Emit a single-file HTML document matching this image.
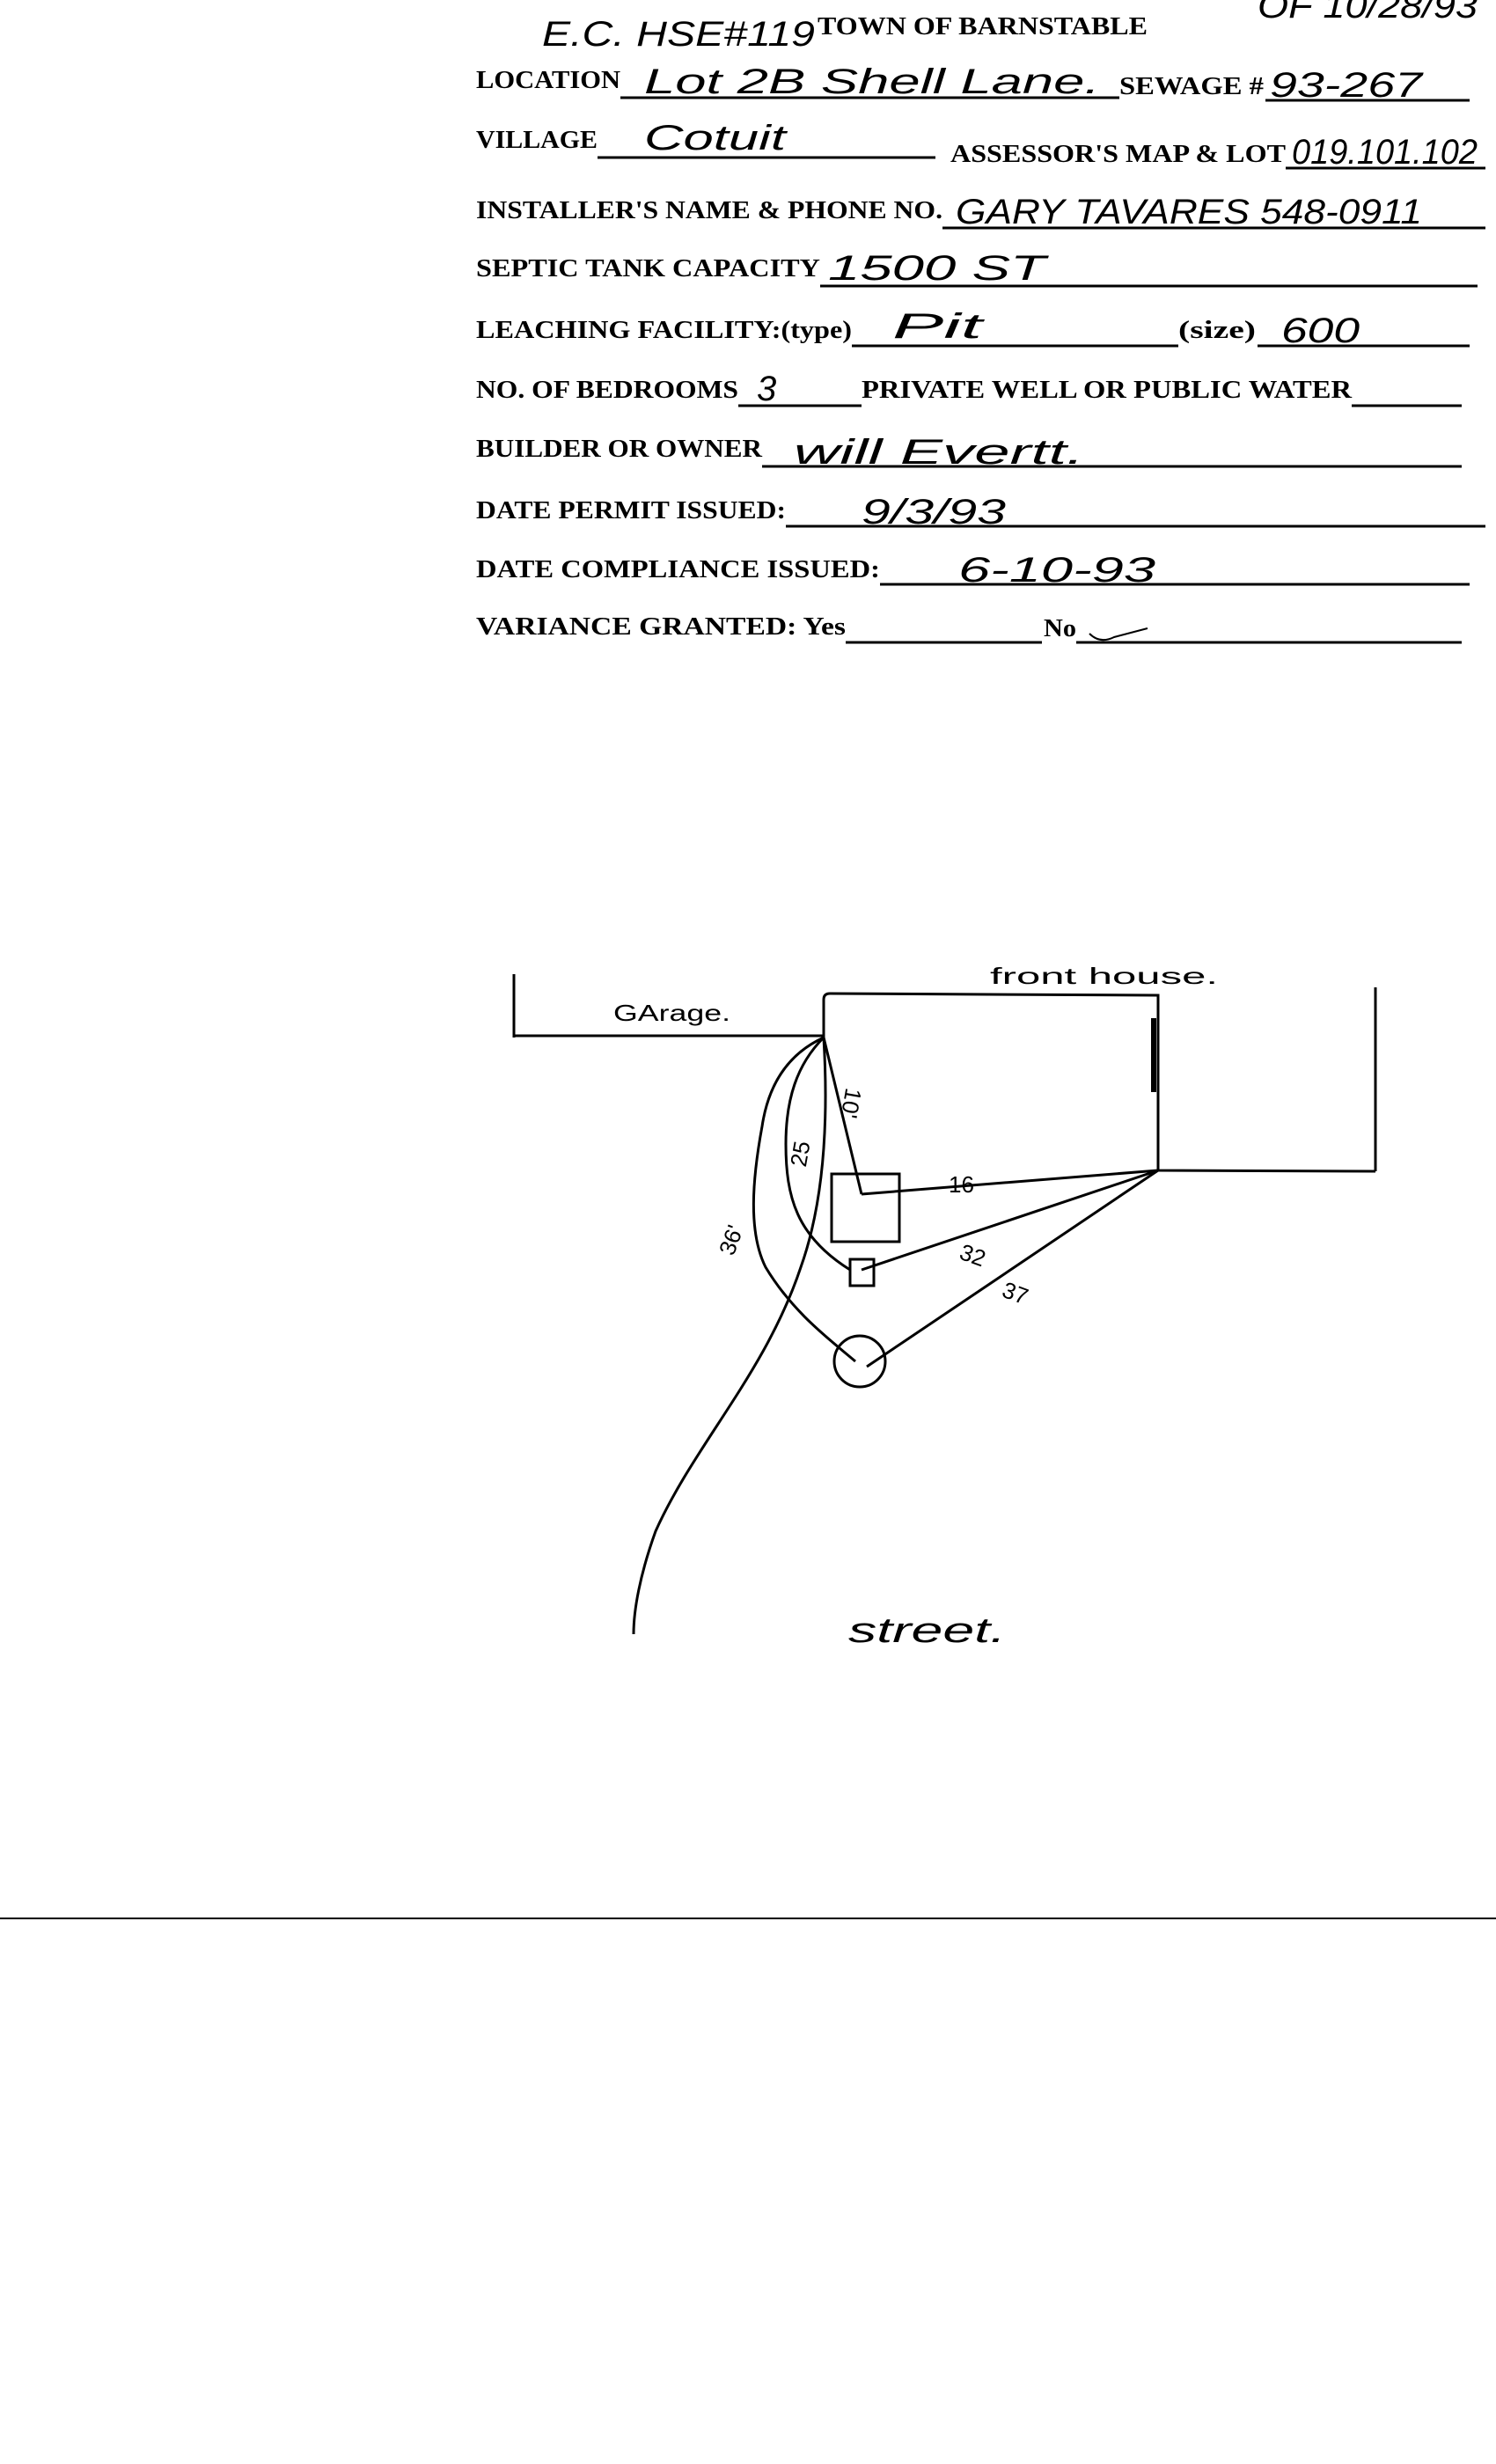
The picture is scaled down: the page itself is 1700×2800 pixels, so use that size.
<!DOCTYPE html>
<html><head><meta charset="utf-8"><style>
html,body{margin:0;padding:0;background:#fff;}
svg{display:block;}
.l{font-family:"Liberation Serif",serif;font-weight:bold;font-size:28px;fill:#000;}
.h{font-family:"Liberation Sans",sans-serif;font-style:italic;font-size:40px;fill:#000;}
.d{font-family:"Liberation Sans",sans-serif;font-size:26px;fill:#000;}
</style></head><body>
<svg width="1700" height="2800" viewBox="0 0 1700 2800" xmlns="http://www.w3.org/2000/svg">
<g stroke="#000" stroke-width="3" fill="none">
<line x1="705" y1="111" x2="1272" y2="111"/><line x1="1438" y1="114" x2="1670" y2="114"/>
<line x1="679" y1="179" x2="1063" y2="179"/><line x1="1461" y1="191" x2="1688" y2="191"/>
<line x1="1071" y1="259" x2="1688" y2="259"/>
<line x1="932" y1="325" x2="1679" y2="325"/>
<line x1="968" y1="393" x2="1339" y2="393"/><line x1="1429" y1="393" x2="1670" y2="393"/>
<line x1="839" y1="461" x2="979" y2="461"/><line x1="1536" y1="461" x2="1661" y2="461"/>
<line x1="866" y1="530" x2="1661" y2="530"/>
<line x1="893" y1="598" x2="1688" y2="598"/>
<line x1="1000" y1="664" x2="1670" y2="664"/>
<line x1="961" y1="730" x2="1184" y2="730"/><line x1="1223" y1="730" x2="1661" y2="730"/>
<line x1="0" y1="2180" x2="1700" y2="2180" stroke-width="2"/>
</g>
<text class="l" x="929" y="39" textLength="375" lengthAdjust="spacingAndGlyphs">TOWN OF BARNSTABLE</text>
<text class="l" x="541" y="100" textLength="164" lengthAdjust="spacingAndGlyphs">LOCATION</text>
<text class="l" x="1272" y="107" textLength="164" lengthAdjust="spacingAndGlyphs">SEWAGE #</text>
<text class="l" x="541" y="168" textLength="138" lengthAdjust="spacingAndGlyphs">VILLAGE</text>
<text class="l" x="1080" y="184" textLength="381" lengthAdjust="spacingAndGlyphs">ASSESSOR'S  MAP &amp; LOT</text>
<text class="l" x="541" y="248" textLength="530" lengthAdjust="spacingAndGlyphs">INSTALLER'S NAME &amp; PHONE NO.</text>
<text class="l" x="541" y="314" textLength="391" lengthAdjust="spacingAndGlyphs">SEPTIC TANK CAPACITY</text>
<text class="l" x="541" y="384" textLength="427" lengthAdjust="spacingAndGlyphs">LEACHING FACILITY:(type)</text>
<text class="l" x="1339" y="384" textLength="88" lengthAdjust="spacingAndGlyphs">(size)</text>
<text class="l" x="541" y="452" textLength="298" lengthAdjust="spacingAndGlyphs">NO. OF BEDROOMS</text>
<text class="l" x="979" y="452" textLength="557" lengthAdjust="spacingAndGlyphs">PRIVATE WELL OR PUBLIC WATER</text>
<text class="l" x="541" y="519" textLength="325" lengthAdjust="spacingAndGlyphs">BUILDER OR OWNER</text>
<text class="l" x="541" y="589" textLength="352" lengthAdjust="spacingAndGlyphs">DATE PERMIT ISSUED:</text>
<text class="l" x="541" y="656" textLength="459" lengthAdjust="spacingAndGlyphs">DATE   COMPLIANCE ISSUED:</text>
<text class="l" x="541" y="721" textLength="420" lengthAdjust="spacingAndGlyphs">VARIANCE GRANTED:  Yes</text>
<text class="l" x="1186" y="723" textLength="37" lengthAdjust="spacingAndGlyphs">No</text>
<text class="h" x="616" y="52" font-size="46" textLength="310" lengthAdjust="spacingAndGlyphs">E.C. HSE#119</text>
<text class="h" x="1429" y="20" textLength="250" lengthAdjust="spacingAndGlyphs">OF 10/28/93</text>
<text class="h" x="732" y="106" textLength="518" lengthAdjust="spacingAndGlyphs">Lot 2B  Shell  Lane.</text>
<text class="h" x="1443" y="110" textLength="173" lengthAdjust="spacingAndGlyphs">93-267</text>
<text class="h" x="732" y="170" font-size="46" textLength="161" lengthAdjust="spacingAndGlyphs">Cotuit</text>
<text class="h" x="1468" y="186" font-size="30" textLength="211" lengthAdjust="spacingAndGlyphs">019.101.102</text>
<text class="h" x="1086" y="254" font-size="34" textLength="530" lengthAdjust="spacingAndGlyphs">GARY  TAVARES  548-0911</text>
<text class="h" x="941" y="318" textLength="247" lengthAdjust="spacingAndGlyphs">1500  ST</text>
<text class="h" x="1014" y="384" font-size="46" textLength="102" lengthAdjust="spacingAndGlyphs">Pit</text>
<text class="h" x="1456" y="389" textLength="89" lengthAdjust="spacingAndGlyphs">600</text>
<text class="h" x="860" y="455">3</text>
<text class="h" x="902" y="527" textLength="330" lengthAdjust="spacingAndGlyphs">will   Evertt.</text>
<text class="h" x="979" y="595" font-size="50" textLength="164" lengthAdjust="spacingAndGlyphs">9/3/93</text>
<text class="h" x="1089" y="661" font-size="46" textLength="224" lengthAdjust="spacingAndGlyphs">6-10-93</text>
<path d="M1238 720 Q1250 732 1266 724 L1304 714" stroke="#000" stroke-width="2" fill="none"/>
<g stroke="#000" stroke-width="3" fill="none">
<line x1="584" y1="1107" x2="584" y2="1179"/><line x1="584" y1="1177" x2="936" y2="1177"/>
<path d="M936 1179 L936 1136 Q936 1129 943 1129 L1316 1131 L1316 1330 L1563 1331"/>
<line x1="1563" y1="1122" x2="1563" y2="1331"/>
<line x1="1311" y1="1157" x2="1311" y2="1241" stroke-width="6"/>
<line x1="936" y1="1179" x2="979" y2="1357"/>
<rect x="945" y="1334" width="77" height="77"/>
<line x1="979" y1="1357" x2="1316" y2="1330"/>
<rect x="966" y="1431" width="27" height="30"/>
<line x1="979" y1="1443" x2="1316" y2="1330"/>
<circle cx="977" cy="1547" r="29"/>
<line x1="985" y1="1553" x2="1316" y2="1330"/>
<path d="M936 1179 C905 1210 893 1250 893 1300 C893 1360 905 1405 966 1443"/>
<path d="M936 1179 C890 1200 872 1240 866 1280 C855 1340 850 1400 870 1440 C900 1490 940 1520 972 1547"/>
<path d="M936 1179 C942 1280 935 1370 910 1440 C870 1560 790 1640 745 1740 C727 1790 720 1830 720 1857"/>
</g>
<text class="d" x="1125" y="1118" textLength="259" lengthAdjust="spacingAndGlyphs">front   house.</text>
<text class="d" x="697" y="1160" textLength="133" lengthAdjust="spacingAndGlyphs">GArage.</text>
<text class="d" x="1078" y="1355">16</text>
<text class="d" x="1090" y="1435" transform="rotate(20 1104 1429)">32</text>
<text class="d" x="1138" y="1478" transform="rotate(20 1152 1473)">37</text>
<text class="d" x="950" y="1255" font-size="30" transform="rotate(100 964 1250)">10'</text>
<text class="d" x="898" y="1320" font-size="30" transform="rotate(-80 911 1313)">25</text>
<text class="d" x="815" y="1420" font-size="30" transform="rotate(-70 830 1411)">36'</text>
<text class="h" x="964" y="1866" font-size="38" textLength="179" lengthAdjust="spacingAndGlyphs">street.</text>
</svg>
</body></html>
